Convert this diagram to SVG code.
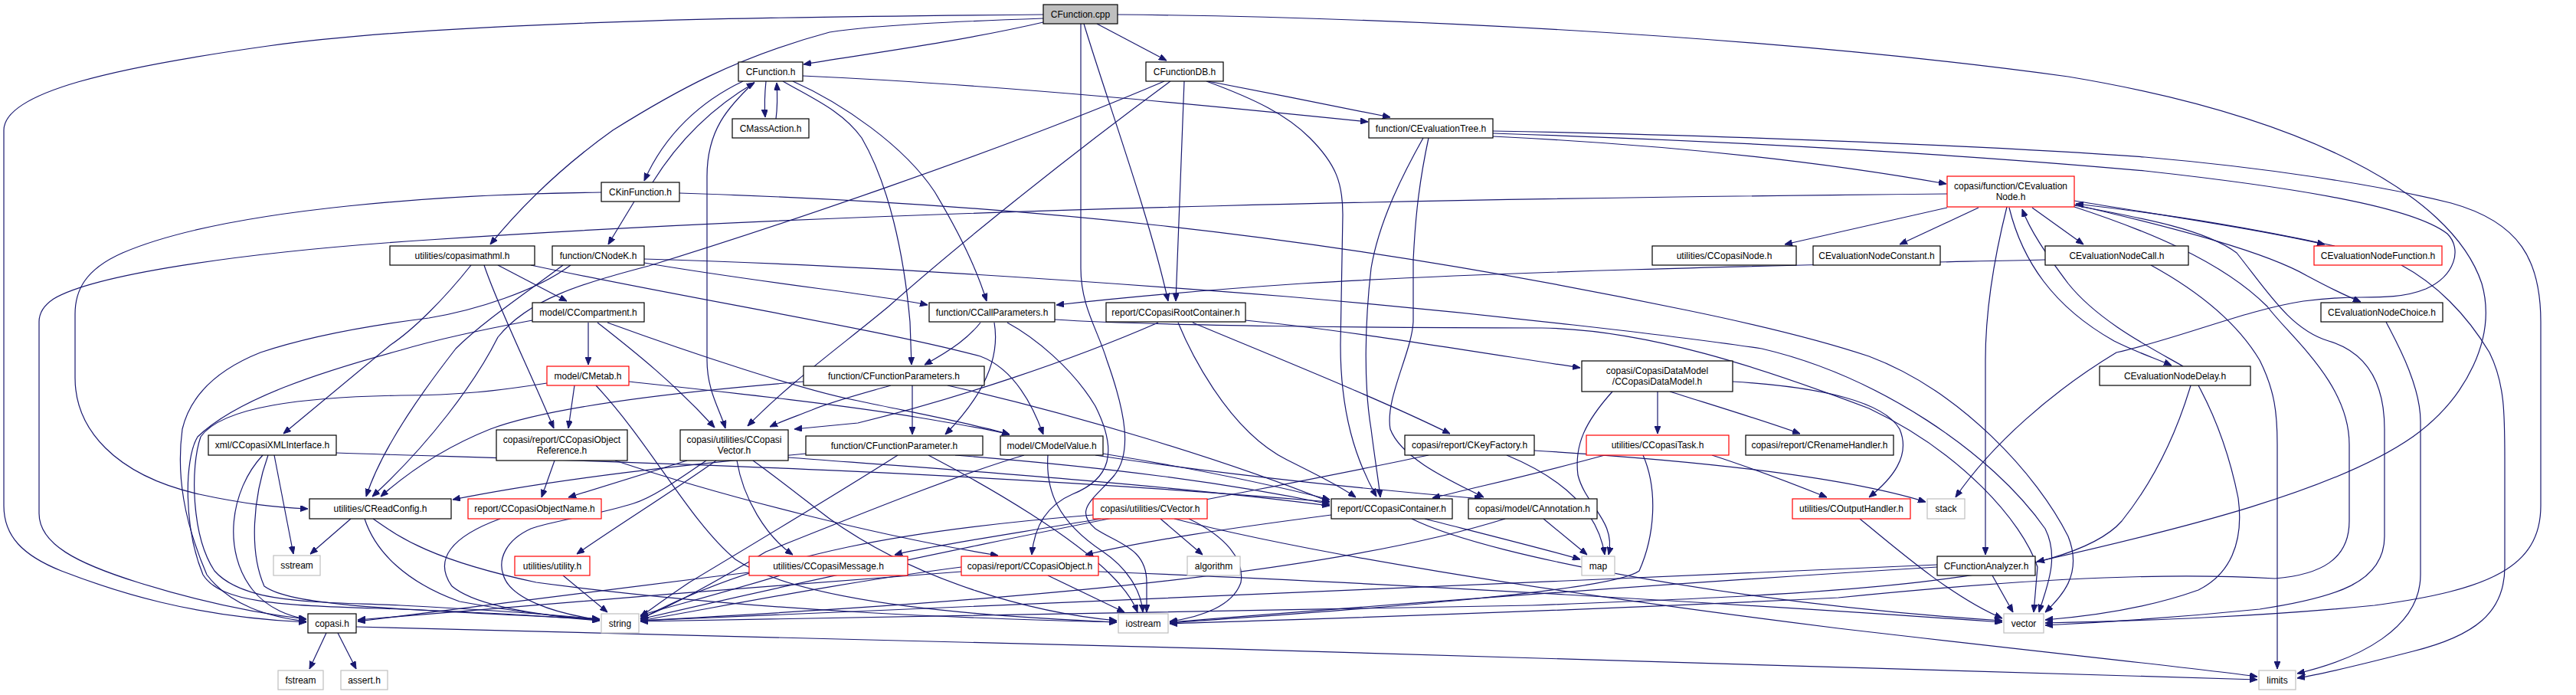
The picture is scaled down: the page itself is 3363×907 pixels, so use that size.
<svg xmlns="http://www.w3.org/2000/svg" width="3363" height="907" viewBox="0 0 3363 907">
<defs>
<marker id="ah" viewBox="0 0 10 8" refX="10" refY="4" markerWidth="10" markerHeight="8" markerUnits="userSpaceOnUse" orient="auto"><path d="M0,0 L10,4 L0,8 z" fill="#191970" stroke="#191970" stroke-width="1"/></marker>
</defs>
<style>
.e path{fill:none;stroke:#191970;stroke-width:1.2;marker-end:url(#ah)}
.n rect{fill:#fff;stroke:#000;stroke-width:1.2}
.n.r rect{stroke:#f00}
.n.g rect{stroke:#bfbfbf}
.n.m rect{fill:#bfbfbf}
.n text{font-family:"Liberation Sans",Arial,sans-serif;font-size:12px;text-anchor:middle;fill:#000}
</style>
<rect width="3363" height="907" fill="#fff"/>
<g id="edges" class="e">
<path d="M1362,19 C1100,21 600,25 350,60 C150,88 5,120 5,170 L5,660 C5,700 30,725 80,745 C150,772 250,805 400,812"/>
<path d="M1362,29 C1250,55 1120,72 1049,84"/>
<path d="M1362,24 C1250,28 1150,32 1083,42 C960,75 880,120 800,170 C730,220 680,270 640,319"/>
<path d="M1432,31 L1523,79"/>
<path d="M1415,31 C1445,130 1500,280 1525,393"/>
<path d="M1411,31 L1411,350 C1411,400 1433,430 1445,470 C1470,540 1478,590 1455,620 C1430,650 1400,665 1430,690 C1460,710 1497,715 1497,760 L1497,799"/>
<path d="M1459,19 C1800,22 2300,45 2700,100 C3000,150 3200,250 3240,370 C3260,440 3220,520 3150,570 C3050,640 2850,690 2659,733"/>
<path d="M1000,106 C998,125 998,140 999,153"/>
<path d="M1013,155 C1015,140 1015,125 1014,108"/>
<path d="M970,106 C915,132 868,175 841,236"/>
<path d="M852,238 C885,185 930,140 985,108"/>
<path d="M1048,99 C1300,110 1600,140 1786,159"/>
<path d="M1035,106 C1100,135 1180,190 1220,250 C1250,300 1275,350 1288,393"/>
<path d="M1022,106 C1060,128 1100,145 1125,180 C1160,240 1180,330 1188,420 L1190,476"/>
<path d="M985,107 C950,140 923,170 923,230 L923,470 C923,510 940,535 947,559"/>
<path d="M828,263 L794,319"/>
<path d="M785,251 C600,253 300,270 160,330 C110,352 98,380 98,410 L98,493 C98,560 150,620 260,645 C320,658 360,662 402,664"/>
<path d="M887,252 C1300,265 1700,300 2203,405 C2300,425 2380,445 2440,465 C2560,510 2660,620 2700,700 C2720,750 2690,780 2670,799"/>
<path d="M1577,106 C1650,120 1750,140 1815,153"/>
<path d="M1546,106 C1543,200 1538,300 1535,393"/>
<path d="M1520,106 C1300,200 1000,300 847,347 C760,370 690,390 650,440 C620,500 560,580 486,648"/>
<path d="M1528,106 C1400,200 1250,320 1160,400 C1100,450 1030,500 976,556"/>
<path d="M1575,106 C1640,130 1680,150 1710,180 C1745,215 1753,240 1753,280 L1750,450 C1750,540 1770,600 1797,648"/>
<path d="M1949,178 C2200,190 2400,215 2541,240"/>
<path d="M1949,171 C2200,175 2600,190 2800,205 C2950,218 3100,240 3200,265 C3290,290 3317,340 3317,420 L3317,660 C3317,740 3250,770 3100,790 C2950,805 2800,810 2670,813"/>
<path d="M1949,174 C2300,185 2600,205 2800,223 C3000,245 3150,270 3195,305 C3215,325 3205,360 3167,377 C3140,388 3110,388 3083,388 C3050,388 3030,390 3007,393 C2930,405 2850,440 2763,460 C2680,510 2600,580 2553,649"/>
<path d="M1858,180 C1830,230 1800,290 1790,350 C1782,420 1780,500 1790,560 C1795,600 1800,630 1802,649"/>
<path d="M1865,180 C1850,250 1847,300 1845,340 L1845,420 C1843,460 1808,520 1815,560 C1830,600 1900,630 1937,649"/>
<path d="M2542,253 C2000,258 1200,270 560,313 C300,330 120,360 70,390 C55,400 51,410 51,420 L51,670 C51,710 100,735 180,760 C260,785 330,800 400,808"/>
<path d="M2542,271 L2330,319"/>
<path d="M2583,271 L2480,319"/>
<path d="M2653,271 L2720,319"/>
<path d="M2708,262 C2850,285 2950,300 3035,319"/>
<path d="M3048,321 C2950,300 2850,282 2710,266"/>
<path d="M2708,267 C2850,300 2960,330 3012,360 C3040,375 3060,385 3082,394"/>
<path d="M2623,271 C2640,340 2680,400 2760,445 C2790,460 2815,468 2835,477"/>
<path d="M2850,478 C2810,455 2740,420 2700,370 C2670,330 2650,300 2640,273"/>
<path d="M2620,270 C2605,330 2592,400 2592,470 L2592,724"/>
<path d="M2708,268 C2800,285 2880,300 2920,330 C2960,380 2990,430 3040,445 C3090,460 3113,500 3113,560 L3113,700 C3113,760 3050,780 2950,795 C2850,805 2750,812 2670,816"/>
<path d="M2708,270 C2800,300 2900,340 2960,400 C2990,440 3067,500 3067,580 L3067,680 C3067,730 3030,750 2970,755 C2800,745 2600,760 2400,780 C2000,800 1700,808 1527,814"/>
<path d="M2670,339 C2400,345 2000,352 1700,370 C1550,380 1450,390 1379,398"/>
<path d="M2808,346 C2870,380 2920,420 2950,470 C2970,510 2973,540 2973,580 L2973,873"/>
<path d="M3135,346 C3180,370 3220,410 3250,460 C3270,500 3270,540 3270,600 L3270,740 C3270,800 3230,830 3150,850 C3080,868 3030,880 2999,885"/>
<path d="M3115,420 C3125,440 3160,500 3160,550 L3160,750 C3160,820 3080,860 2999,879"/>
<path d="M2870,503 C2890,540 2910,590 2922,650 C2930,710 2910,750 2870,770 C2800,795 2720,805 2670,809"/>
<path d="M2860,503 C2840,570 2810,630 2770,680 C2700,760 2400,775 2000,790 C1500,800 1100,805 836,811"/>
<path d="M650,346 L740,393"/>
<path d="M632,346 C650,400 690,480 723,559"/>
<path d="M615,346 C580,390 540,430 510,450 L370,566"/>
<path d="M693,346 C900,390 1150,430 1280,465 C1320,480 1345,520 1362,567"/>
<path d="M841,343 C1000,370 1150,385 1211,398"/>
<path d="M841,338 C1100,345 1400,365 1680,387 C1950,410 2200,440 2300,455 C2450,490 2600,590 2670,690 C2690,730 2670,770 2662,799"/>
<path d="M735,346 C690,380 630,420 595,455 C560,500 500,580 478,648"/>
<path d="M745,346 C700,380 620,405 560,415 C480,425 400,440 340,460 C290,480 250,510 238,560 C230,620 240,680 270,750 C300,790 350,805 400,811"/>
<path d="M768,421 L768,476"/>
<path d="M780,421 C830,460 880,500 933,558"/>
<path d="M793,421 C900,460 1050,510 1120,523 C1200,540 1280,555 1318,567"/>
<path d="M821,498 C950,512 1100,528 1200,545 C1260,555 1300,562 1318,567"/>
<path d="M695,418 C620,432 560,446 523,457 C420,485 310,520 258,570 C240,600 240,690 265,750 C290,790 380,790 523,795 C650,800 740,806 783,810"/>
<path d="M714,500 C650,510 600,516 523,516 C400,518 290,530 262,570 C248,610 250,700 280,745 C320,790 420,785 523,790 C640,796 730,803 783,808"/>
<path d="M750,503 L742,559"/>
<path d="M778,503 C850,580 900,680 960,730 C1050,790 1300,805 1458,812"/>
<path d="M724,601 L707,649"/>
<path d="M803,601 C950,650 1150,700 1303,725"/>
<path d="M897,601 L742,649"/>
<path d="M935,601 C880,640 800,690 753,723"/>
<path d="M962,601 C970,650 1000,700 1035,724"/>
<path d="M922,601 C880,630 850,650 827,657 C780,672 720,680 693,690 C660,705 650,730 657,750 C665,780 720,800 783,809"/>
<path d="M983,601 C1030,635 1060,660 1083,677 C1200,760 1350,800 1458,810"/>
<path d="M1029,597 C1200,610 1500,630 1736,660"/>
<path d="M1191,503 L1191,567"/>
<path d="M1163,503 C1120,515 1083,525 1060,535 C1040,543 1020,550 1005,557"/>
<path d="M1512,421 C1400,470 1250,520 1120,552 C1090,555 1060,558 1037,560"/>
<path d="M1049,498 C900,510 720,530 640,560 C590,580 540,610 497,648"/>
<path d="M1237,503 C1400,540 1600,600 1736,655"/>
<path d="M1172,594 C1100,640 1000,700 900,760 C870,780 850,795 836,805"/>
<path d="M1212,594 C1300,640 1400,700 1450,750 C1470,770 1480,785 1485,799"/>
<path d="M1052,592 C850,610 700,630 591,652"/>
<path d="M1247,594 C1450,610 1600,630 1736,658"/>
<path d="M1440,592 C1550,610 1650,630 1736,652"/>
<path d="M1368,594 C1365,640 1380,680 1440,720 C1470,740 1490,770 1492,799"/>
<path d="M1337,594 C1250,620 1150,660 1000,720 C950,750 880,790 836,807"/>
<path d="M1430,594 C1600,620 1800,640 1935,651"/>
<path d="M1515,677 L1570,724"/>
<path d="M1552,677 C1600,700 1625,730 1620,760 C1610,790 1570,805 1527,811"/>
<path d="M1427,672 C1200,690 1000,720 836,808"/>
<path d="M1437,677 C1300,700 1200,715 1168,724"/>
<path d="M1533,677 C1700,720 2000,770 2400,820 C2700,855 2850,870 2947,883"/>
<path d="M1255,740 C1100,760 950,790 836,810"/>
<path d="M1255,746 C1000,764 720,788 467,809"/>
<path d="M978,747 C800,768 620,792 467,811"/>
<path d="M1368,751 L1468,799"/>
<path d="M1434,746 C1800,760 2300,790 2614,812"/>
<path d="M1538,421 C1550,450 1600,560 1680,600 C1720,620 1750,635 1770,649"/>
<path d="M1557,421 C1650,460 1800,520 1893,566"/>
<path d="M1626,418 C1750,430 1900,455 2063,480"/>
<path d="M1280,421 C1265,440 1245,455 1207,476"/>
<path d="M1298,421 C1303,450 1300,500 1234,567"/>
<path d="M1377,417 C1500,425 1800,428 2013,428 C2150,430 2300,480 2440,533 C2560,590 2640,680 2660,740 L2655,799"/>
<path d="M1315,421 C1350,440 1400,480 1430,530 C1460,590 1450,625 1400,645 C1365,660 1350,690 1347,724"/>
<path d="M2164,511 L2164,566"/>
<path d="M2180,511 C2240,530 2300,548 2350,566"/>
<path d="M2262,498 C2380,505 2460,525 2480,560 C2495,595 2470,625 2440,649"/>
<path d="M2105,511 C2070,550 2055,580 2060,620 C2070,660 2110,680 2100,724"/>
<path d="M2095,594 C2000,620 1930,635 1870,650"/>
<path d="M2235,594 C2300,615 2350,635 2385,649"/>
<path d="M2145,594 C2165,640 2160,700 2140,745 C2100,775 1700,800 1527,813"/>
<path d="M1967,594 C2030,620 2085,660 2095,724"/>
<path d="M2003,588 C2200,600 2400,620 2514,655"/>
<path d="M1865,594 C1700,630 1300,700 836,808"/>
<path d="M1860,677 C1950,700 2030,720 2063,730"/>
<path d="M1843,677 C1950,730 2300,790 2614,810"/>
<path d="M1738,672 C1600,690 1500,705 1417,724"/>
<path d="M2015,677 L2072,724"/>
<path d="M1965,677 C1700,760 1200,790 836,810"/>
<path d="M2428,677 C2480,720 2550,780 2614,807"/>
<path d="M2601,751 L2628,799"/>
<path d="M2529,737 C2000,760 1300,790 836,810"/>
<path d="M2529,740 C2200,760 1800,790 1527,812"/>
<path d="M458,677 L405,723"/>
<path d="M476,677 C490,720 530,760 600,785 C680,800 740,806 783,809"/>
<path d="M487,677 C520,700 560,730 700,760 C1000,800 1300,808 1458,812"/>
<path d="M358,594 L383,723"/>
<path d="M343,594 C300,640 290,720 330,770 C350,795 380,805 400,808"/>
<path d="M350,594 C330,650 325,720 345,765 C380,790 500,795 783,808"/>
<path d="M439,591 C700,600 1200,610 1736,655"/>
<path d="M653,677 C590,700 565,730 590,765 C620,790 700,803 783,809"/>
<path d="M735,751 L793,799"/>
<path d="M1018,751 C940,775 880,790 836,803"/>
<path d="M426,826 L404,873"/>
<path d="M441,826 L465,873"/>
<path d="M465,818 C1200,835 2300,865 2947,887"/>
</g>
<g id="n0" class="n m"><rect x="1362" y="6" width="97" height="25"/><text x="1410.5" y="23">CFunction.cpp</text></g>
<g id="n1" class="n"><rect x="964" y="81" width="84" height="25"/><text x="1006" y="98">CFunction.h</text></g>
<g id="n2" class="n"><rect x="1496" y="81" width="101" height="25"/><text x="1546.5" y="98">CFunctionDB.h</text></g>
<g id="n3" class="n"><rect x="956" y="155" width="100" height="25"/><text x="1006" y="172">CMassAction.h</text></g>
<g id="n4" class="n"><rect x="1787" y="155" width="162" height="25"/><text x="1868" y="172">function/CEvaluationTree.h</text></g>
<g id="n5" class="n r"><rect x="2542" y="230" width="166" height="40"/><text x="2625" y="247">copasi/function/CEvaluation</text><text x="2625" y="261">Node.h</text></g>
<g id="n6" class="n"><rect x="785" y="238" width="102" height="25"/><text x="836" y="255">CKinFunction.h</text></g>
<g id="n7" class="n"><rect x="509" y="321" width="189" height="25"/><text x="603.5" y="338">utilities/copasimathml.h</text></g>
<g id="n8" class="n"><rect x="721" y="321" width="120" height="25"/><text x="781" y="338">function/CNodeK.h</text></g>
<g id="n9" class="n"><rect x="2157" y="321" width="188" height="25"/><text x="2251" y="338">utilities/CCopasiNode.h</text></g>
<g id="n10" class="n"><rect x="2367" y="321" width="166" height="25"/><text x="2450" y="338">CEvaluationNodeConstant.h</text></g>
<g id="n11" class="n"><rect x="2670" y="321" width="187" height="25"/><text x="2763.5" y="338">CEvaluationNodeCall.h</text></g>
<g id="n12" class="n r"><rect x="3021" y="321" width="167" height="25"/><text x="3104.5" y="338">CEvaluationNodeFunction.h</text></g>
<g id="n13" class="n"><rect x="695" y="395" width="146" height="25"/><text x="768" y="412">model/CCompartment.h</text></g>
<g id="n14" class="n"><rect x="1213" y="395" width="164" height="25"/><text x="1295" y="412">function/CCallParameters.h</text></g>
<g id="n15" class="n"><rect x="1444" y="395" width="182" height="25"/><text x="1535" y="412">report/CCopasiRootContainer.h</text></g>
<g id="n16" class="n"><rect x="3030" y="395" width="159" height="25"/><text x="3109.5" y="412">CEvaluationNodeChoice.h</text></g>
<g id="n17" class="n r"><rect x="714" y="478" width="107" height="25"/><text x="767.5" y="495">model/CMetab.h</text></g>
<g id="n18" class="n"><rect x="1049" y="478" width="236" height="25"/><text x="1167" y="495">function/CFunctionParameters.h</text></g>
<g id="n19" class="n"><rect x="2065" y="471" width="197" height="40"/><text x="2163.5" y="488">copasi/CopasiDataModel</text><text x="2163.5" y="502">/CCopasiDataModel.h</text></g>
<g id="n20" class="n"><rect x="2741" y="478" width="197" height="25"/><text x="2839.5" y="495">CEvaluationNodeDelay.h</text></g>
<g id="n21" class="n"><rect x="272" y="568" width="167" height="26"/><text x="355.5" y="585">xml/CCopasiXMLInterface.h</text></g>
<g id="n22" class="n"><rect x="648" y="561" width="171" height="40"/><text x="733.5" y="578">copasi/report/CCopasiObject</text><text x="733.5" y="592">Reference.h</text></g>
<g id="n23" class="n"><rect x="888" y="561" width="141" height="40"/><text x="958.5" y="578">copasi/utilities/CCopasi</text><text x="958.5" y="592">Vector.h</text></g>
<g id="n24" class="n"><rect x="1052" y="569" width="231" height="25"/><text x="1167.5" y="586">function/CFunctionParameter.h</text></g>
<g id="n25" class="n"><rect x="1306" y="569" width="134" height="25"/><text x="1373" y="586">model/CModelValue.h</text></g>
<g id="n26" class="n"><rect x="1834" y="568" width="169" height="26"/><text x="1918.5" y="585">copasi/report/CKeyFactory.h</text></g>
<g id="n27" class="n r"><rect x="2071" y="568" width="186" height="26"/><text x="2164" y="585">utilities/CCopasiTask.h</text></g>
<g id="n28" class="n"><rect x="2279" y="568" width="193" height="26"/><text x="2375.5" y="585">copasi/report/CRenameHandler.h</text></g>
<g id="n29" class="n"><rect x="404" y="651" width="185" height="26"/><text x="496.5" y="668">utilities/CReadConfig.h</text></g>
<g id="n30" class="n r"><rect x="611" y="651" width="174" height="26"/><text x="698" y="668">report/CCopasiObjectName.h</text></g>
<g id="n31" class="n r"><rect x="1427" y="651" width="149" height="26"/><text x="1501.5" y="668">copasi/utilities/CVector.h</text></g>
<g id="n32" class="n"><rect x="1738" y="651" width="158" height="26"/><text x="1817" y="668">report/CCopasiContainer.h</text></g>
<g id="n33" class="n"><rect x="1917" y="651" width="168" height="26"/><text x="2001" y="668">copasi/model/CAnnotation.h</text></g>
<g id="n34" class="n r"><rect x="2340" y="651" width="154" height="26"/><text x="2417" y="668">utilities/COutputHandler.h</text></g>
<g id="n35" class="n g"><rect x="2516" y="651" width="49" height="26"/><text x="2540.5" y="668">stack</text></g>
<g id="n36" class="n g"><rect x="357" y="725" width="61" height="26"/><text x="387.5" y="742">sstream</text></g>
<g id="n37" class="n r"><rect x="672" y="726" width="98" height="25"/><text x="721" y="743">utilities/utility.h</text></g>
<g id="n38" class="n r"><rect x="978" y="726" width="207" height="25"/><text x="1081.5" y="743">utilities/CCopasiMessage.h</text></g>
<g id="n39" class="n r"><rect x="1255" y="726" width="179" height="25"/><text x="1344.5" y="743">copasi/report/CCopasiObject.h</text></g>
<g id="n40" class="n g"><rect x="1550" y="726" width="69" height="25"/><text x="1584.5" y="743">algorithm</text></g>
<g id="n41" class="n g"><rect x="2065" y="726" width="43" height="25"/><text x="2086.5" y="743">map</text></g>
<g id="n42" class="n"><rect x="2529" y="726" width="128" height="25"/><text x="2593" y="743">CFunctionAnalyzer.h</text></g>
<g id="n43" class="n"><rect x="402" y="801" width="63" height="25"/><text x="433.5" y="818">copasi.h</text></g>
<g id="n44" class="n g"><rect x="785" y="801" width="49" height="25"/><text x="809.5" y="818">string</text></g>
<g id="n45" class="n g"><rect x="1460" y="801" width="65" height="25"/><text x="1492.5" y="818">iostream</text></g>
<g id="n46" class="n g"><rect x="2616" y="801" width="52" height="25"/><text x="2642" y="818">vector</text></g>
<g id="n47" class="n g"><rect x="363" y="875" width="59" height="25"/><text x="392.5" y="892">fstream</text></g>
<g id="n48" class="n g"><rect x="445" y="875" width="61" height="25"/><text x="475.5" y="892">assert.h</text></g>
<g id="n49" class="n g"><rect x="2949" y="875" width="48" height="25"/><text x="2973" y="892">limits</text></g>
</svg>
